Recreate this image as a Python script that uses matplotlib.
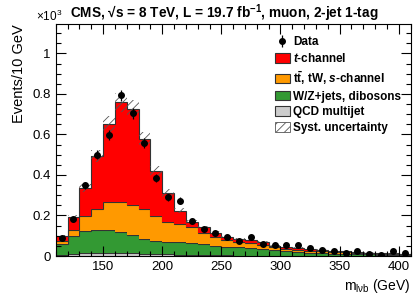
import numpy as np
import matplotlib
matplotlib.use("Agg")
import matplotlib.pyplot as plt
from matplotlib.patches import Patch
from matplotlib.ticker import MultipleLocator, FuncFormatter

plt.rcParams['font.family'] = ['Liberation Sans', 'DejaVu Sans']
plt.rcParams['mathtext.fontset'] = 'custom'
plt.rcParams['mathtext.rm'] = 'Liberation Sans'
plt.rcParams['mathtext.it'] = 'Liberation Sans:italic'
plt.rcParams['mathtext.bf'] = 'Liberation Sans:bold'
plt.rcParams['mathtext.bfit'] = 'Liberation Sans:italic:bold'
plt.rcParams['hatch.linewidth'] = 0.6

# m_lvb bins, 10 GeV wide, from 110 to 410 GeV
edges = np.arange(110, 411, 10)

# events per bin (x10^3)
data = [0.090, 0.181, 0.349, 0.500, 0.597, 0.793, 0.705, 0.559, 0.384, 0.291,
        0.273, 0.174, 0.131, 0.115, 0.095, 0.074, 0.095, 0.058, 0.053, 0.055,
        0.052, 0.038, 0.030, 0.026, 0.013, 0.024, 0.011, 0.005, 0.023, 0.017]
qcd = [0.005, 0.012, 0.013, 0.015, 0.015, 0.014, 0.013, 0.012, 0.010, 0.008,
       0.006, 0.005, 0.004, 0.003, 0.003, 0.002, 0.002, 0.002, 0.001, 0.001,
       0.001, 0.001, 0.001, 0.001, 0.0, 0.0, 0.0, 0.0, 0.0, 0.0]
wjets = [0.054, 0.088, 0.110, 0.113, 0.112, 0.103, 0.089, 0.073, 0.065, 0.063,
         0.062, 0.057, 0.054, 0.046, 0.043, 0.043, 0.039, 0.033, 0.029, 0.022,
         0.018, 0.015, 0.013, 0.011, 0.010, 0.009, 0.008, 0.007, 0.006, 0.005]
ttbar = [0.013, 0.028, 0.076, 0.104, 0.138, 0.151, 0.148, 0.145, 0.121, 0.097,
         0.092, 0.079, 0.057, 0.046, 0.033, 0.026, 0.021, 0.019, 0.013, 0.011,
         0.011, 0.011, 0.010, 0.009, 0.008, 0.007, 0.006, 0.005, 0.005, 0.005]
tchan = [0.025, 0.063, 0.136, 0.263, 0.386, 0.490, 0.475, 0.346, 0.225, 0.142,
         0.064, 0.029, 0.026, 0.020, 0.016, 0.012, 0.015, 0.014, 0.007, 0.009,
         0.010, 0.008, 0.007, 0.006, 0.005, 0.004, 0.003, 0.003, 0.002, 0.002]
syst_frac = 0.06

labels = ['Data', r'$\mathbfit{t}$-channel',
          r'$\mathbf{t\bar{t}}$, tW, $\mathbfit{s}$-channel',
          'W/Z+jets, dibosons', 'QCD multijet', 'Syst. uncertainty']
colors = ['#ff0000', '#ff9900', '#339933', '#cccccc']
edgec = '#333333'

fig = plt.figure(figsize=(4.16, 2.97), dpi=100)
ax = fig.add_axes([0.134, 0.138, 0.853, 0.781])

# stack from the bottom up: QCD, W/Z, tt, t-channel
layers = [qcd, wjets, ttbar, tchan]
layer_cols = [colors[3], colors[2], colors[1], colors[0]]
bottom = np.zeros(len(data))
for vals, c in zip(layers, layer_cols):
    top = bottom + np.array(vals)
    ax.stairs(top, edges, baseline=bottom, fill=True, color=c, lw=0)
    ax.stairs(top, edges, baseline=None, color=edgec, lw=0.8)
    bottom = top
total = bottom

# syst band
ax.stairs(total * (1 + syst_frac), edges, baseline=total * (1 - syst_frac),
          fill=True, facecolor='none', edgecolor='#555555', hatch='////', lw=0)

centers = (edges[:-1] + edges[1:]) / 2
data = np.array(data)
err = np.sqrt(data * 1000) / 1000
ax.errorbar(centers, data, yerr=err, fmt='o', color='black', ms=4, elinewidth=0.9, capsize=0)

ax.set_xlim(110, 410)
ax.set_ylim(0, 1.145)
ax.xaxis.set_major_locator(MultipleLocator(50))
ax.xaxis.set_minor_locator(MultipleLocator(10))
ax.yaxis.set_major_locator(MultipleLocator(0.2))
ax.yaxis.set_minor_locator(MultipleLocator(0.05))
ax.yaxis.set_major_formatter(FuncFormatter(lambda v, p: '%g' % round(v, 2)))
ax.tick_params(which='both', direction='in', top=True, right=True, labelsize=9.5)
ax.tick_params(which='major', length=7, width=0.8)
ax.tick_params(which='minor', length=3.6, width=0.8)
for s in ax.spines.values():
    s.set_linewidth(0.8)

ax.set_ylabel('Events/10 GeV', fontsize=10.5, loc='top', labelpad=5)
ax.set_xlabel(r'm$_{\mathrm{l\nu b}}$ (GeV)', fontsize=10, loc='right', labelpad=3)
fig.text(0.087, 0.945, r'$\times$10$^{3}$', fontsize=8.5, ha='left', va='center')
fig.text(0.168, 0.955, r'CMS, √s = 8 TeV, L = 19.7 fb$^{\mathbf{-1}}$, muon, 2-jet 1-tag',
         fontsize=9.8, fontweight='bold', ha='left', va='center')

data_h = ax.errorbar([], [], yerr=[], fmt='o', color='black', ms=4, elinewidth=0.9)
handles = [data_h] + [Patch(facecolor=c, edgecolor=edgec, lw=0.8) for c in colors] + \
          [Patch(facecolor='white', edgecolor='#555555', hatch='////', lw=0.6)]
ax.legend(handles, labels, loc='upper left', bbox_to_anchor=(0.619, 0.948), frameon=False,
          prop={'weight': 'bold', 'size': 8.5}, handlelength=1.2, handleheight=0.9,
          handletextpad=0.3, labelspacing=0.33, borderpad=0, borderaxespad=0)

fig.savefig('out.png', dpi=100)
